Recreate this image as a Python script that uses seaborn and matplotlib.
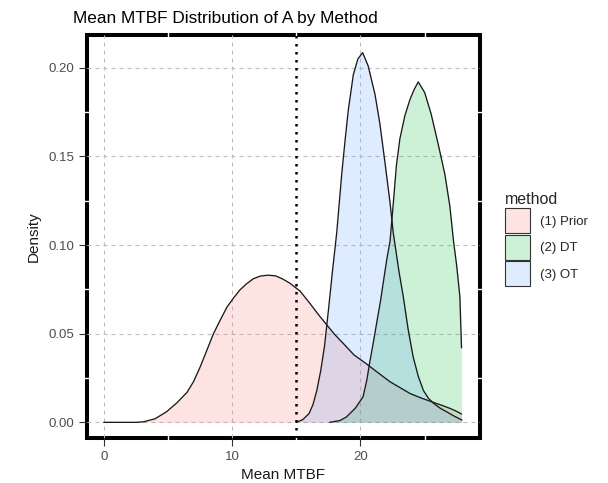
import matplotlib
matplotlib.use("Agg")
import matplotlib.pyplot as plt
from matplotlib.patches import Patch, Rectangle
from matplotlib.colors import to_rgba
import pandas as pd
import seaborn as sns

# Estimated density curves of mean MTBF for each method
methods = ["(1) Prior", "(2) DT", "(3) OT"]
colors = ["#F8766D", "#00BA38", "#619CFF"]

prior_x = [0.0, 2.5, 3.1, 4.0, 4.9, 5.7, 6.5, 7.0, 7.5, 8.0, 8.55, 9.1, 9.6, 10.1,
           10.6, 11.1, 11.66, 12.2, 12.8, 13.4, 13.9, 14.5, 15.3, 16.07, 16.7,
           17.37, 18.0, 18.66, 19.5, 20.48, 21.4, 22.3, 23.1, 23.85, 24.7, 25.54,
           26.3, 26.96, 27.4, 27.87]
prior_d = [0.0, 0.0, 0.0003, 0.002, 0.006, 0.011, 0.017, 0.023, 0.031, 0.040,
           0.050, 0.058, 0.065, 0.070, 0.0746, 0.078, 0.081, 0.0825, 0.083,
           0.0826, 0.081, 0.0785, 0.074, 0.067, 0.061, 0.055, 0.0495, 0.0445,
           0.038, 0.0329, 0.0278, 0.0229, 0.0195, 0.0163, 0.0138, 0.0116,
           0.0097, 0.0079, 0.0065, 0.0047]

dt_x = [17.6, 18.4, 18.9, 19.6, 20.2, 20.5, 20.7, 21.0, 21.26, 21.55, 21.8, 22.05,
        22.3, 22.55, 22.8, 23.07, 23.46, 23.85, 24.2, 24.5, 25.0, 25.5, 26.05,
        26.57, 26.96, 27.25, 27.5, 27.74, 27.87]
dt_d = [0.0, 0.001, 0.003, 0.008, 0.0144, 0.024, 0.033, 0.045, 0.056, 0.068,
        0.080, 0.092, 0.102, 0.123, 0.145, 0.160, 0.173, 0.182, 0.188, 0.192,
        0.186, 0.174, 0.157, 0.140, 0.122, 0.102, 0.088, 0.071, 0.042]

ot_x = [15.0, 15.5, 16.0, 16.3, 16.6, 16.9, 17.2, 17.5, 17.8, 18.15, 18.54, 18.8,
        19.05, 19.44, 19.8, 20.17, 20.6, 21.13, 21.5, 21.9, 22.3, 22.55, 23.0,
        23.33, 23.7, 24.1, 24.5, 24.9, 25.3, 25.7, 26.2, 26.7, 27.3, 27.9]
ot_d = [0.0, 0.0015, 0.005, 0.010, 0.018, 0.029, 0.043, 0.063, 0.084, 0.107,
        0.140, 0.159, 0.176, 0.196, 0.205, 0.2085, 0.201, 0.185, 0.169, 0.147,
        0.124, 0.107, 0.085, 0.071, 0.053, 0.037, 0.026, 0.018, 0.0135, 0.0107,
        0.008, 0.006, 0.0035, 0.0013]

threshold = 15
x_ticks = [0, 10, 20]
y_ticks = [0.00, 0.05, 0.10, 0.15, 0.20]
y_tick_labels = ["0.00", "0.05", "0.10", "0.15", "0.20"]

df = pd.concat([
    pd.DataFrame({"mtbf": prior_x, "density": prior_d, "method": methods[0]}),
    pd.DataFrame({"mtbf": dt_x, "density": dt_d, "method": methods[1]}),
    pd.DataFrame({"mtbf": ot_x, "density": ot_d, "method": methods[2]}),
], ignore_index=True)

sns.set_theme(style="white")
plt.rcParams["font.family"] = ["Liberation Sans", "DejaVu Sans"]

W, H = 608, 483
fig = plt.figure(figsize=(W / 100, H / 100), dpi=100)
left, right, top, bottom = 87, 479.5, 35.3, 438.3
ax = fig.add_axes([left / W, 1 - bottom / H, (right - left) / W, (bottom - top) / H])
ax.set_xlim(-1.3, 29.27)
ax.set_ylim(-0.0090, 0.2183)

# density areas, one group after another
for m, c in zip(methods, colors):
    g = df[df["method"] == m]
    ax.fill_between(g["mtbf"], 0, g["density"], color=to_rgba(c, 0.2),
                    linewidth=0, zorder=2)
    sns.lineplot(data=g, x="mtbf", y="density", estimator=None, sort=False,
                 color="#1a1a1a", linewidth=0.95, ax=ax, legend=False, zorder=3)

ax.axvline(threshold, color="black", linestyle=(0, (1, 2.2)), linewidth=1.8, zorder=4)

# panel border, minor white grid and dashed major grid
for s in ax.spines.values():
    s.set_visible(False)
ax.add_patch(Rectangle((0, 0), 1, 1, transform=ax.transAxes, fill=False,
                       edgecolor="black", linewidth=2.9, clip_on=False, zorder=0.5))
ext = 0.008
for xm in [5, 15, 25]:
    ax.plot([xm, xm], [-ext, 1 + ext], color="white", linewidth=1.0,
            transform=ax.get_xaxis_transform(), clip_on=False, zorder=0.6)
for ym in [0.025, 0.075, 0.125, 0.175]:
    ax.plot([-ext, 1 + ext], [ym, ym], color="white", linewidth=1.0,
            transform=ax.get_yaxis_transform(), clip_on=False, zorder=0.6)
for xv in x_ticks:
    ax.axvline(xv, color="#bdbdbd", linestyle=(0, (3.6, 3.6)), linewidth=0.8, zorder=0.7)
for yv in y_ticks:
    ax.axhline(yv, color="#bdbdbd", linestyle=(0, (3.6, 3.6)), linewidth=0.8, zorder=0.7)

ax.set_xticks(x_ticks)
ax.set_xticklabels([str(v) for v in x_ticks])
ax.set_yticks(y_ticks)
ax.set_yticklabels(y_tick_labels)
ax.tick_params(axis="both", which="major", length=6, width=0.8, color="#333333",
               labelcolor="#4d4d4d", labelsize=9.5, pad=3, direction="out",
               bottom=True, left=True)
ax.set_xlabel("Mean MTBF", fontsize=11, color="#1a1a1a", labelpad=4)
ax.set_ylabel("Density", fontsize=11, color="#1a1a1a", labelpad=6)

fig.text(73 / W, 1 - 23 / H, "Mean MTBF Distribution of A by Method",
         fontsize=12.4, color="black", va="baseline", ha="left")

handles = [Patch(facecolor=to_rgba(c, 0.2), edgecolor="#333333", linewidth=0.8)
           for c in colors]
leg = fig.legend(handles, methods, title="method", loc="upper left",
                 bbox_to_anchor=(505 / W, 1 - 192 / H), frameon=False,
                 fontsize=9.5, title_fontsize=11.5, handlelength=1.9, handleheight=2.54,
                 labelspacing=0.11, handletextpad=0.76, borderpad=0, borderaxespad=0)
leg._legend_box.align = "left"

fig.savefig("out.png", dpi=100)
